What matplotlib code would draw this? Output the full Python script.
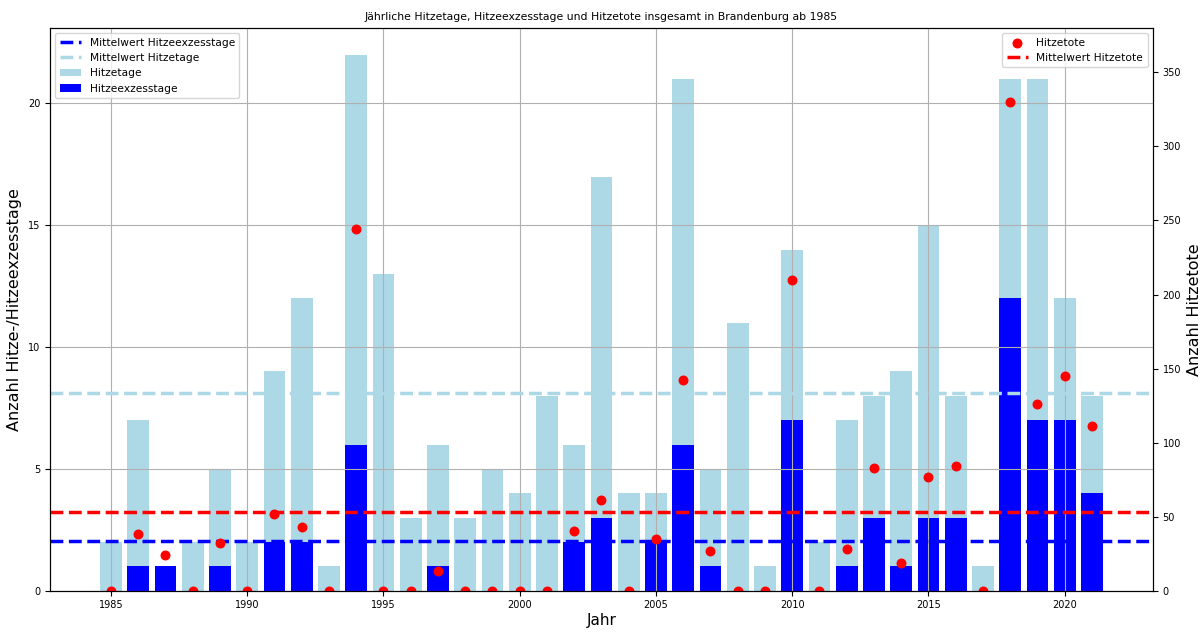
import matplotlib.pyplot as plt
import numpy as np

# Daten
jahre = list(range(1985, 2022))
hitzetage = [2, 7, 1, 2, 5, 2, 9, 12, 1, 22, 13, 3, 6, 3, 5, 4, 8, 6, 17, 4,
             4, 21, 5, 11, 1, 14, 2, 7, 8, 9, 15, 8, 1, 21, 21, 12, 8]
hitzeexzesstage = [0, 1, 1, 0, 1, 0, 2, 2, 0, 6, 0, 0, 1, 0, 0, 0, 0, 2, 3, 0,
                   2, 6, 1, 0, 0, 7, 0, 1, 3, 1, 3, 3, 0, 12, 7, 7, 4]
hitzetote = [0, 38, 24, 0, 32, 0, 52, 43, 0, 244, 0, 0, 13, 0, 0, 0, 0, 40, 61, 0,
             35, 142, 27, 0, 0, 210, 0, 28, 83, 19, 77, 84, 0, 330, 126, 145, 111]

mw_tage = np.mean(hitzetage)
mw_exzess = np.mean(hitzeexzesstage)
mw_tote = np.mean(hitzetote)

fig, ax1 = plt.subplots(figsize=(12.01, 6.33), dpi=100)
fig.subplots_adjust(left=0.0416, right=0.960, top=0.9558, bottom=0.0668)

b1 = ax1.bar(jahre, hitzetage, color='lightblue', label='Hitzetage')
b2 = ax1.bar(jahre, hitzeexzesstage, color='blue', label='Hitzeexzesstage')
l1 = ax1.axhline(mw_exzess, color='blue', linestyle='--', linewidth=2.5,
                 label='Mittelwert Hitzeexzesstage')
l2 = ax1.axhline(mw_tage, color='lightblue', linestyle='--', linewidth=2.5,
                 label='Mittelwert Hitzetage')
ax1.grid(True)
ax1.set_xlabel('Jahr', fontsize=11, labelpad=2)
ax1.set_ylabel('Anzahl Hitze-/Hitzeexzesstage', fontsize=11.5)
ax1.tick_params(labelsize=7)
ax1.legend(handles=[l1, l2, b1, b2], loc='upper left', fontsize=7.7)

ax2 = ax1.twinx()
s1 = ax2.scatter(jahre, hitzetote, color='red', s=38, label='Hitzetote')
l3 = ax2.axhline(mw_tote, color='red', linestyle='--', linewidth=2.5,
                 label='Mittelwert Hitzetote')
ax2.set_ylim(0, 380)
ax2.set_ylabel('Anzahl Hitzetote', fontsize=11.5)
ax2.tick_params(labelsize=7)
ax2.legend(handles=[s1, l3], loc='upper right', fontsize=7.7)

plt.title('Jährliche Hitzetage, Hitzeexzesstage und Hitzetote insgesamt in Brandenburg ab 1985',
          fontsize=7.8)
plt.savefig('out.png')
